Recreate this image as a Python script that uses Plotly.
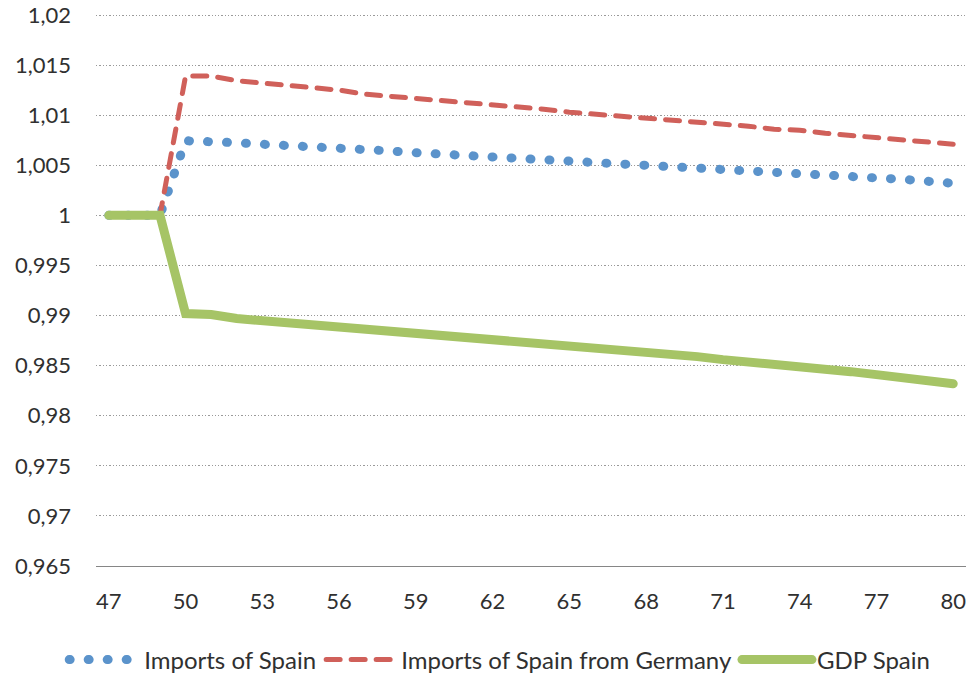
import plotly.graph_objects as go

periods = list(range(47, 81))

imports_spain = [1.0, 1.0, 1.0, 1.00745, 1.00745, 1.00725, 1.0071, 1.0070, 1.00685, 1.0067,
                 1.0066, 1.00643, 1.00625, 1.00612, 1.0060, 1.00585, 1.00572, 1.0056, 1.00545,
                 1.00535, 1.0052, 1.00505, 1.00492, 1.0048, 1.00465, 1.0045, 1.00435, 1.0042,
                 1.00405, 1.0039, 1.00375, 1.0036, 1.0034, 1.0032]

imports_spain_germany = [1.0, 1.0, 1.0, 1.0139, 1.0139, 1.01345, 1.0132, 1.0130, 1.0127, 1.0125,
                         1.0121, 1.0119, 1.0117, 1.0115, 1.0112, 1.0110, 1.0108, 1.0106, 1.0103,
                         1.0101, 1.0100, 1.0097, 1.0095, 1.0093, 1.0091, 1.0089, 1.0086, 1.0085,
                         1.0082, 1.0080, 1.0078, 1.0076, 1.0074, 1.0071]

gdp_spain = [1.0, 1.0, 1.0, 0.9902, 0.9901, 0.9897, 0.9895, 0.9893, 0.9891, 0.9889,
             0.9887, 0.9885, 0.9883, 0.9881, 0.9879, 0.9876, 0.9874, 0.9872, 0.9870,
             0.9867, 0.9865, 0.9863, 0.9861, 0.9859, 0.9856, 0.9854, 0.9852, 0.9849,
             0.9846, 0.9844, 0.9841, 0.9838, 0.9835, 0.9832]

x_ticks = list(range(47, 81, 3))
y_ticks = [0.965, 0.97, 0.975, 0.98, 0.985, 0.99, 0.995, 1.0, 1.005, 1.01, 1.015, 1.02]
y_tick_labels = ["0,965", "0,97", "0,975", "0,98", "0,985", "0,99", "0,995", "1",
                 "1,005", "1,01", "1,015", "1,02"]

FONT = "Lato"
TXT = "#303030"

fig = go.Figure()
fig.add_trace(go.Scatter(x=periods, y=imports_spain, mode="lines", name="Imports of Spain",
                         line=dict(color="#5B93CB", width=9, dash="1px,18px")))
fig.add_trace(go.Scatter(x=periods, y=imports_spain_germany, mode="lines",
                         name="Imports of Spain from Germany",
                         line=dict(color="#D0605A", width=5, dash="14px,11px")))
fig.add_trace(go.Scatter(x=periods, y=gdp_spain, mode="lines", name="GDP Spain",
                         line=dict(color="#A6C466", width=9)))

fig.update_layout(
    width=969, height=679,
    margin=dict(l=96, r=3, t=13, b=113),
    paper_bgcolor="white", plot_bgcolor="white",
    font=dict(family=FONT, size=22, color=TXT),
    showlegend=True,
    legend=dict(orientation="h", x=0.464, xanchor="center",
                yref="container", y=0.028, yanchor="middle",
                font=dict(family=FONT, size=24, color=TXT), itemwidth=70,
                traceorder="normal", tracegroupgap=0),
    xaxis=dict(range=[46.5, 80.5], tickvals=x_ticks, showgrid=False, zeroline=False,
               showline=True, linecolor="#868686", linewidth=1.3, ticks="",
               automargin=False, ticklabelstandoff=15,
               tickfont=dict(family=FONT, size=22, color=TXT)),
    yaxis=dict(range=[0.965, 1.0202], tickvals=y_ticks, ticktext=y_tick_labels,
               showgrid=True, gridcolor="#9A9A9A", gridwidth=1.3, griddash="1.3px,2px",
               zeroline=False, showline=False, ticks="", ticklabelstandoff=24,
               automargin=False, ticklabeloverflow="allow",
               tickfont=dict(family=FONT, size=22, color=TXT)),
)

post = """
document.body.style.margin = '0';
document.querySelectorAll('.scatterlayer path.js-line, .legend path.js-line').forEach(function(p){
  p.style.strokeLinecap = 'round';
});
"""

fig.write_html("out.html", post_script=post, config={"displayModeBar": False})
